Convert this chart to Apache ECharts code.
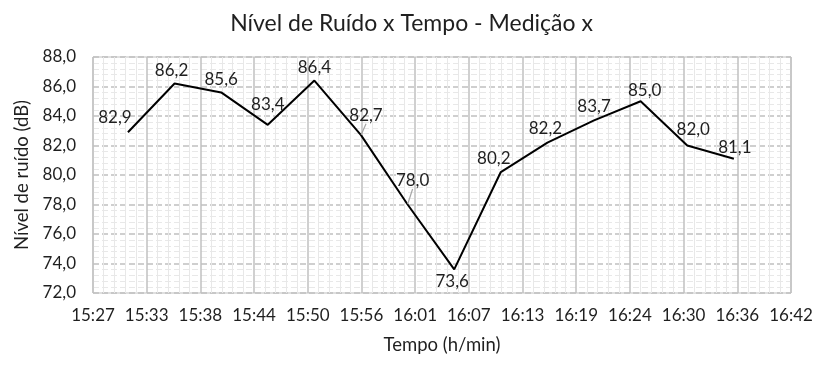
<!DOCTYPE html>
<html>
<head>
<meta charset="utf-8">
<script src="https://cdn.jsdelivr.net/npm/echarts@6/dist/echarts.min.js"></script>
<style>html,body{margin:0;padding:0;background:#fff}#c{width:823px;height:372px}</style>
</head>
<body>
<div id="c"></div>
<script>
const times = ["15:31","15:36","15:41","15:46","15:51","15:56","16:01","16:06","16:11","16:16","16:21","16:26","16:31","16:36"];
const noise = [82.9,86.2,85.6,83.4,86.4,82.7,78.0,73.6,80.2,82.2,83.7,85.0,82.0,81.1];
const xTickLabels = ["15:27","15:33","15:38","15:44","15:50","15:56","16:01","16:07","16:13","16:19","16:24","16:30","16:36","16:42"];
const yMin = 72, yMax = 88, yStep = 2;

// axis geometry (minutes from axis start)
const axisStartMin = 15*60 + 27.25;
const tickStep = 5.76;
const labelOffsets = [[-13,0],[-3,2],[0,2],[0,-5],[0,2],[5,-5],[5,-9],[-2,0],[-7,1],[-2,1],[0,1],[4,4],[6,-1],[1,4]];
const withLeader = [5,6];
const toMin = s => { const [h,m] = s.split(':').map(Number); return h*60+m; };
const fmt = v => v.toFixed(1).replace('.', ',');
const font = 'Lato, "Open Sans", sans-serif';
const txt = '#1f1f1f';

const seriesData = times.map((t,i) => {
  const item = { value: [toMin(t) - axisStartMin, noise[i]] };
  if (i === 7) item.label = { position: 'bottom', distance: 3 };
  if (withLeader.includes(i)) item.labelLine = { show: true, lineStyle: { color: '#a6a6a6', width: 1.2 } };
  return item;
});

const chart = echarts.init(document.getElementById('c'), null, { renderer: 'canvas' });
chart.setOption({
  animation: false,
  title: {
    text: 'Nível de Ruído x Tempo - Medição x',
    left: 'center', top: 7,
    textStyle: { fontFamily: font, fontSize: 23, fontWeight: 'normal', color: txt }
  },
  grid: { left: 93, right: 32, top: 57, bottom: 79, show: true, borderColor: '#bfbfbf', borderWidth: 1 },
  xAxis: {
    type: 'value', min: 0, max: tickStep * (xTickLabels.length - 1), interval: tickStep,
    name: 'Tempo (h/min)', nameLocation: 'middle', nameGap: 43,
    nameTextStyle: { fontFamily: font, fontSize: 18.5, color: txt },
    axisLine: { show: false }, axisTick: { show: false },
    axisLabel: { margin: 14, fontFamily: font, fontSize: 17, color: txt,
      formatter: v => xTickLabels[Math.round(v / tickStep)] ?? '' , showMaxLabel: true, showMinLabel: true },
    splitLine: { show: true, lineStyle: { color: '#c0c0c0', width: 1.5 } },
    minorTick: { show: false, splitNumber: 5 },
    minorSplitLine: { show: true, lineStyle: { color: '#e8e8e8', width: 1 } }
  },
  yAxis: {
    type: 'value', min: yMin, max: yMax, interval: yStep,
    name: 'Nível de ruído (dB)', nameLocation: 'middle', nameGap: 57,
    nameTextStyle: { fontFamily: font, fontSize: 18.5, color: txt },
    axisLine: { show: false }, axisTick: { show: false },
    axisLabel: { margin: 17, fontFamily: font, fontSize: 17, color: txt, formatter: fmt },
    splitLine: { show: true, lineStyle: { color: '#c0c0c0', width: 1.5, type: [6, 3] } },
    minorTick: { show: false, splitNumber: 5 },
    minorSplitLine: { show: true, lineStyle: { color: '#e8e8e8', width: 1, type: [6, 3] } }
  },
  series: [{
    type: 'line',
    data: seriesData,
    symbol: 'circle', symbolSize: 1, showSymbol: true,
    itemStyle: { color: 'rgba(0,0,0,0)' },
    lineStyle: { color: '#000', width: 2 },
    label: { show: true, position: 'top', distance: 6, fontFamily: font, fontSize: 17, color: txt,
      formatter: p => fmt(p.value[1]) },
    labelLayout: p => { const o = labelOffsets[p.dataIndex]; return { dx: o[0], dy: o[1] }; },
    labelLine: { show: false }
  }]
});
</script>
</body>
</html>
